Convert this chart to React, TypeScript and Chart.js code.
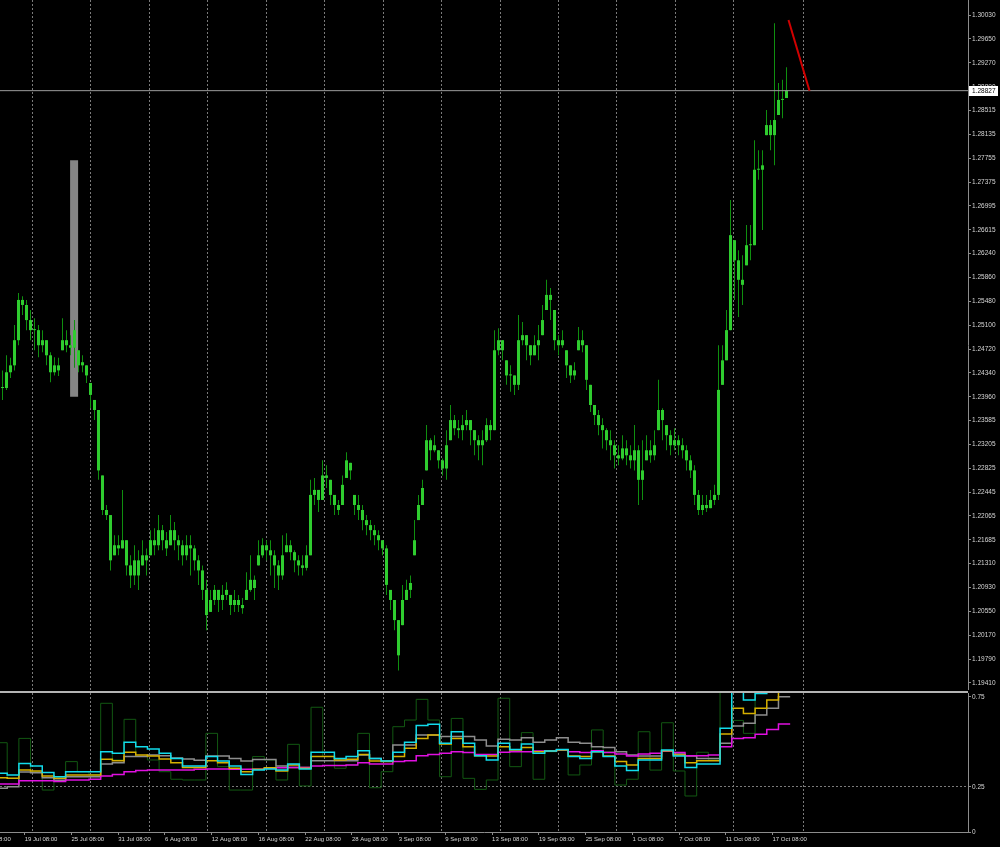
import React, { useEffect, useRef } from "react";
import { Chart, registerables } from "chart.js";

Chart.register(...registerables);

const FONT = "'Liberation Sans', Arial, sans-serif";
const AXIS_TEXT = "#d6d6d6";
const AXIS_LINE = "#8c8c8c";
const GRID = "#7a7a7a";

// ---- price bars (one bar per index) ----
const closes = [
  1.2410, 1.2435, 1.2446, 1.2486, 1.2550, 1.2542, 1.2518, 1.2502, 1.2502, 1.2478,
  1.2486, 1.2462, 1.2435, 1.2446, 1.2438, 1.2486, 1.2478, 1.2474, 1.2502, 1.2446,
  1.2451, 1.2430, 1.2399, 1.2375, 1.2279, 1.2216, 1.2208, 1.2136, 1.2160, 1.2155,
  1.2168, 1.2128, 1.2112, 1.2136, 1.2112, 1.2144, 1.2136, 1.2168, 1.2160, 1.2184,
  1.2168, 1.2155, 1.2184, 1.2168, 1.2160, 1.2144, 1.2160, 1.2155, 1.2136, 1.2120,
  1.2089, 1.2049, 1.2073, 1.2089, 1.2073, 1.2081, 1.2089, 1.2065, 1.2073, 1.2065,
  1.2060, 1.2089, 1.2105, 1.2092, 1.2144, 1.2160, 1.2152, 1.2144, 1.2128, 1.2112,
  1.2144, 1.2160, 1.2149, 1.2136, 1.2128, 1.2124, 1.2144, 1.2240, 1.2248, 1.2232,
  1.2271, 1.2267, 1.2240, 1.2224, 1.2216, 1.2256, 1.2295, 1.2279, 1.2224, 1.2216,
  1.2200, 1.2192, 1.2184, 1.2176, 1.2168, 1.2155, 1.2097, 1.2073, 1.2041, 1.1985,
  1.2073, 1.2089, 1.2100, 1.2168, 1.2224, 1.2251, 1.2327, 1.2311, 1.2319, 1.2295,
  1.2282, 1.2319, 1.2359, 1.2346, 1.2343, 1.2351, 1.2359, 1.2343, 1.2327, 1.2319,
  1.2327, 1.2351, 1.2343, 1.2470, 1.2486, 1.2470, 1.2430, 1.2430, 1.2415, 1.2486,
  1.2494, 1.2478, 1.2462, 1.2478, 1.2486, 1.2518, 1.2558, 1.2550, 1.2486, 1.2478,
  1.2486, 1.2446, 1.2430, 1.2438, 1.2486, 1.2478, 1.2423, 1.2383, 1.2367, 1.2351,
  1.2343, 1.2327, 1.2319, 1.2303, 1.2298, 1.2314, 1.2303, 1.2295, 1.2311, 1.2264,
  1.2279, 1.2311, 1.2303, 1.2319, 1.2375, 1.2359, 1.2335, 1.2319, 1.2327, 1.2319,
  1.2311, 1.2295, 1.2279, 1.2240, 1.2216, 1.2224, 1.2219, 1.2232, 1.2240, 1.2407,
  1.2454, 1.2502, 1.2653, 1.2613, 1.2582, 1.2574, 1.2637, 1.2637, 1.2757, 1.2757,
  1.2764, 1.2828, 1.2812, 1.2836, 1.2868, 1.2868, 1.28827,
];

const highs = [
  1.2438, 1.2462, 1.2458, 1.2510, 1.2561, 1.2556, 1.2550, 1.2534, 1.2521, 1.2510,
  1.2502, 1.2486, 1.2467, 1.2459, 1.2458, 1.2521, 1.2502, 1.2494, 1.2518, 1.2470,
  1.2462, 1.2446, 1.2418, 1.2391, 1.2375, 1.2271, 1.2224, 1.2208, 1.2176, 1.2176,
  1.2248, 1.2168, 1.2144, 1.2160, 1.2152, 1.2168, 1.2155, 1.2184, 1.2187, 1.2208,
  1.2192, 1.2181, 1.2208, 1.2197, 1.2176, 1.2168, 1.2176, 1.2176, 1.2160, 1.2144,
  1.2128, 1.2105, 1.2089, 1.2097, 1.2089, 1.2097, 1.2101, 1.2081, 1.2089, 1.2081,
  1.2076, 1.2117, 1.2144, 1.2112, 1.2168, 1.2171, 1.2168, 1.2168, 1.2152, 1.2136,
  1.2176, 1.2179, 1.2168, 1.2152, 1.2144, 1.2144, 1.2160, 1.2264, 1.2267, 1.2248,
  1.2295, 1.2287, 1.2264, 1.2240, 1.2232, 1.2271, 1.2308, 1.2291, 1.2240, 1.2240,
  1.2224, 1.2208, 1.2200, 1.2192, 1.2184, 1.2168, 1.2160, 1.2089, 1.2073, 1.2041,
  1.2097, 1.2105, 1.2112, 1.2200, 1.2240, 1.2264, 1.2351, 1.2330, 1.2335, 1.2311,
  1.2298, 1.2343, 1.2383, 1.2367, 1.2359, 1.2367, 1.2375, 1.2359, 1.2343, 1.2335,
  1.2343, 1.2362, 1.2359, 1.2502, 1.2505, 1.2486, 1.2454, 1.2446, 1.2430, 1.2526,
  1.2515, 1.2494, 1.2478, 1.2494, 1.2510, 1.2542, 1.2582, 1.2569, 1.2534, 1.2494,
  1.2502, 1.2470, 1.2446, 1.2451, 1.2507, 1.2502, 1.2478, 1.2415, 1.2383, 1.2375,
  1.2362, 1.2346, 1.2343, 1.2327, 1.2319, 1.2335, 1.2327, 1.2319, 1.2351, 1.2319,
  1.2327, 1.2335, 1.2327, 1.2343, 1.2423, 1.2378, 1.2351, 1.2343, 1.2346, 1.2335,
  1.2330, 1.2319, 1.2303, 1.2287, 1.2248, 1.2240, 1.2240, 1.2248, 1.2256, 1.2478,
  1.2478, 1.2534, 1.2709, 1.2645, 1.2629, 1.2621, 1.2669, 1.2669, 1.2804, 1.2788,
  1.2788, 1.2852, 1.2836, 1.2990, 1.2895, 1.2900, 1.2920,
];

const lows = [
  1.2391, 1.2407, 1.2426, 1.2438, 1.2478, 1.2526, 1.2502, 1.2486, 1.2470, 1.2459,
  1.2467, 1.2446, 1.2419, 1.2430, 1.2429, 1.2470, 1.2467, 1.2462, 1.2442, 1.2435,
  1.2435, 1.2418, 1.2378, 1.2359, 1.2264, 1.2208, 1.2200, 1.2120, 1.2144, 1.2144,
  1.2155, 1.2112, 1.2092, 1.2097, 1.2089, 1.2128, 1.2112, 1.2144, 1.2144, 1.2152,
  1.2152, 1.2143, 1.2160, 1.2152, 1.2136, 1.2128, 1.2136, 1.2112, 1.2120, 1.2097,
  1.2073, 1.2025, 1.2054, 1.2065, 1.2054, 1.2057, 1.2073, 1.2049, 1.2054, 1.2054,
  1.2051, 1.2073, 1.2086, 1.2073, 1.2128, 1.2140, 1.2136, 1.2112, 1.2092, 1.2089,
  1.2105, 1.2149, 1.2136, 1.2117, 1.2112, 1.2112, 1.2120, 1.2144, 1.2224, 1.2213,
  1.2232, 1.2251, 1.2224, 1.2208, 1.2208, 1.2224, 1.2267, 1.2264, 1.2208, 1.2200,
  1.2184, 1.2176, 1.2168, 1.2160, 1.2152, 1.2144, 1.2081, 1.2057, 1.2025, 1.1961,
  1.2033, 1.2073, 1.2076, 1.2144, 1.2200, 1.2224, 1.2279, 1.2295, 1.2308, 1.2282,
  1.2271, 1.2264, 1.2327, 1.2335, 1.2330, 1.2327, 1.2343, 1.2319, 1.2303, 1.2295,
  1.2287, 1.2324, 1.2327, 1.2343, 1.2462, 1.2454, 1.2415, 1.2404, 1.2399, 1.2407,
  1.2478, 1.2454, 1.2446, 1.2462, 1.2454, 1.2494, 1.2534, 1.2518, 1.2470, 1.2462,
  1.2474, 1.2426, 1.2418, 1.2423, 1.2470, 1.2467, 1.2407, 1.2372, 1.2351, 1.2335,
  1.2314, 1.2311, 1.2295, 1.2282, 1.2287, 1.2295, 1.2287, 1.2282, 1.2279, 1.2224,
  1.2232, 1.2295, 1.2291, 1.2295, 1.2343, 1.2327, 1.2311, 1.2303, 1.2311, 1.2303,
  1.2298, 1.2279, 1.2267, 1.2224, 1.2208, 1.2208, 1.2213, 1.2219, 1.2224, 1.2232,
  1.2415, 1.2454, 1.2502, 1.2550, 1.2523, 1.2542, 1.2605, 1.2613, 1.2637, 1.2741,
  1.2661, 1.2812, 1.2788, 1.2764, 1.2844, 1.2839, 1.2871,
];

// ---- price axis ----
const priceTickLabels = [
  "1.30030", "1.29650", "1.29270", "1.28890", "1.28515", "1.28135", "1.27755",
  "1.27375", "1.26995", "1.26615", "1.26240", "1.25860", "1.25480", "1.25100",
  "1.24720", "1.24340", "1.23960", "1.23585", "1.23205", "1.22825", "1.22445",
  "1.22065", "1.21685", "1.21310", "1.20930", "1.20550", "1.20170", "1.19790",
  "1.19410",
];
const PRICE_MIN = 1.192987;
const PRICE_MAX = 1.302685;
const LAST_PRICE = 1.28827;

// ---- time axis (bar index units) ----
const X_MIN = -0.625;
const X_MAX = 241.375;
const gridBars = [7.5, 22.1, 36.7, 51.3, 66.0, 80.6, 95.2, 109.8, 124.4, 139.0, 153.6, 168.2, 182.8, 200.3];
const dateTickBars = [-6.1, 5.56, 17.24, 28.93, 40.62, 52.3, 63.99, 75.67, 87.36, 99.05, 110.7, 122.4, 134.1, 145.8, 157.5, 169.2, 180.8, 192.5];
const dateLabels = [
  "13 Jul 08:00", "19 Jul 08:00", "25 Jul 08:00", "31 Jul 08:00", "6 Aug 08:00",
  "12 Aug 08:00", "16 Aug 08:00", "22 Aug 08:00", "28 Aug 08:00", "3 Sep 08:00",
  "9 Sep 08:00", "13 Sep 08:00", "19 Sep 08:00", "25 Sep 08:00", "1 Oct 08:00",
  "7 Oct 08:00", "11 Oct 08:00", "17 Oct 08:00",
];

// ---- drawn objects ----
const highlightBar = 17.9;
const highlightRange = [1.2396, 1.2772];
const trendBars = [196.5, 201.75];
const trendPrices = [1.2995, 1.28827];

// ---- indicator (one value per session) ----
const SESSION_ORIGIN = -1.7465; // bar index where session 0 starts
const SESSION_BARS = 2.9215; // bars per session
const IND_MAX = 0.7722;
const indTickValues = [0, 0.25, 0.75];
const indTickLabels = ["0", "0.25", "0.75"];

const cyanVals = [
  0.326, 0.317, 0.381, 0.367, 0.330, 0.307, 0.335, 0.335, 0.335, 0.446,
  0.437, 0.498, 0.474, 0.461, 0.437, 0.409, 0.367, 0.367, 0.419, 0.394,
  0.367, 0.320, 0.344, 0.350, 0.344, 0.378, 0.350, 0.443, 0.443, 0.409,
  0.419, 0.452, 0.409, 0.394, 0.443, 0.498, 0.591, 0.598, 0.493, 0.557,
  0.493, 0.424, 0.400, 0.493, 0.459, 0.489, 0.437, 0.450, 0.459, 0.419,
  0.409, 0.446, 0.419, 0.367, 0.341, 0.400, 0.400, 0.456, 0.422, 0.359,
  0.378, 0.378, 0.576, 0.850, 0.733, 0.770, 0.850, 0.850,
];
const goldVals = [
  0.302, 0.298, 0.344, 0.339, 0.311, 0.298, 0.317, 0.317, 0.317, 0.404,
  0.396, 0.443, 0.428, 0.422, 0.406, 0.385, 0.359, 0.359, 0.396, 0.385,
  0.354, 0.335, 0.348, 0.357, 0.339, 0.372, 0.354, 0.419, 0.419, 0.400,
  0.404, 0.431, 0.394, 0.391, 0.419, 0.465, 0.520, 0.539, 0.489, 0.520,
  0.474, 0.424, 0.422, 0.474, 0.456, 0.470, 0.446, 0.450, 0.456, 0.422,
  0.419, 0.446, 0.422, 0.391, 0.372, 0.409, 0.409, 0.452, 0.428, 0.385,
  0.396, 0.396, 0.544, 0.687, 0.659, 0.687, 0.733, 0.780,
];
const grayVals = [
  0.243, 0.252, 0.334, 0.329, 0.301, 0.288, 0.307, 0.307, 0.307, 0.378,
  0.385, 0.419, 0.419, 0.428, 0.424, 0.411, 0.406, 0.398, 0.422, 0.422,
  0.409, 0.394, 0.403, 0.403, 0.367, 0.359, 0.359, 0.396, 0.396, 0.396,
  0.396, 0.428, 0.409, 0.394, 0.483, 0.483, 0.539, 0.539, 0.530, 0.530,
  0.530, 0.511, 0.478, 0.515, 0.511, 0.524, 0.498, 0.511, 0.524, 0.498,
  0.493, 0.474, 0.470, 0.446, 0.428, 0.422, 0.422, 0.452, 0.433, 0.422,
  0.409, 0.409, 0.493, 0.589, 0.604, 0.650, 0.687, 0.752,
];
const magentaVals = [
  0.267, 0.267, 0.285, 0.285, 0.285, 0.280, 0.289, 0.289, 0.293, 0.311,
  0.320, 0.335, 0.341, 0.344, 0.344, 0.344, 0.344, 0.348, 0.350, 0.350,
  0.348, 0.348, 0.348, 0.354, 0.357, 0.359, 0.359, 0.367, 0.369, 0.370,
  0.372, 0.385, 0.378, 0.378, 0.391, 0.396, 0.424, 0.431, 0.437, 0.446,
  0.441, 0.431, 0.431, 0.443, 0.446, 0.446, 0.450, 0.450, 0.456, 0.446,
  0.441, 0.452, 0.441, 0.433, 0.422, 0.433, 0.437, 0.450, 0.441, 0.424,
  0.424, 0.428, 0.474, 0.520, 0.524, 0.543, 0.570, 0.600,
];
const greenVals = [
  0.496, 0.298, 0.520, 0.335, 0.233, 0.298, 0.391, 0.335, 0.317, 0.715,
  0.400, 0.626, 0.420, 0.400, 0.335, 0.293, 0.289, 0.289, 0.548, 0.363,
  0.233, 0.233, 0.419, 0.400, 0.289, 0.487, 0.256, 0.693, 0.420, 0.354,
  0.372, 0.548, 0.246, 0.335, 0.585, 0.622, 0.737, 0.622, 0.307, 0.631,
  0.298, 0.237, 0.289, 0.743, 0.363, 0.552, 0.293, 0.446, 0.456, 0.317,
  0.372, 0.567, 0.446, 0.261, 0.293, 0.557, 0.344, 0.607, 0.339, 0.200,
  0.443, 0.400, 0.850, 0.620, 0.548, 0.850,
];

function sessionPoints(vals: number[]) {
  const pts = vals.map((v, s) => ({ x: SESSION_ORIGIN + s * SESSION_BARS, y: v }));
  pts.push({ x: SESSION_ORIGIN + vals.length * SESSION_BARS, y: vals[vals.length - 1] });
  return pts;
}

const priceTag = {
  id: "priceTag",
  afterDraw(chart: any) {
    const ys = chart.scales.y;
    const y = Math.round(ys.getPixelForValue(LAST_PRICE));
    const x = chart.chartArea.right + 1;
    const ctx = chart.ctx;
    ctx.save();
    ctx.fillStyle = "#ffffff";
    ctx.fillRect(x, y - 5, 29, 10);
    ctx.fillStyle = "#000000";
    ctx.font = `6.5px ${FONT}`;
    ctx.textBaseline = "middle";
    ctx.textAlign = "left";
    ctx.fillText(LAST_PRICE.toFixed(5), x + 3, y + 0.5);
    ctx.restore();
  },
};

export default function App() {
  const topRef = useRef<HTMLCanvasElement>(null);
  const botRef = useRef<HTMLCanvasElement>(null);

  useEffect(() => {
    const wickData = highs.map((h, i) => ({ x: i, y: [lows[i], h] }));
    const bodyData = closes.map((c, i) => {
      const prev = i > 0 ? closes[i - 1] : c;
      const open = Math.min(highs[i], Math.max(lows[i], prev));
      return { x: i, y: [open, c] };
    });

    const top = new Chart(topRef.current as HTMLCanvasElement, {
      type: "bar",
      data: {
        datasets: [
          {
            type: "bar",
            data: [{ x: highlightBar, y: highlightRange }],
            backgroundColor: "#858585",
            barThickness: 8,
            grouped: false,
            inflateAmount: 0,
            order: 10,
          } as any,
          {
            type: "bar",
            data: wickData,
            backgroundColor: "#0f8f0f",
            barThickness: 1,
            grouped: false,
            inflateAmount: 0,
            order: 4,
          } as any,
          {
            type: "bar",
            data: bodyData,
            backgroundColor: "#2fcc2f",
            barThickness: 3,
            grouped: false,
            inflateAmount: 0,
            minBarLength: 1,
            order: 3,
          } as any,
          {
            type: "line",
            data: [
              { x: X_MIN, y: LAST_PRICE },
              { x: X_MAX, y: LAST_PRICE },
            ],
            borderColor: "#9c9c9c",
            borderWidth: 1,
            pointRadius: 0,
            order: 2,
          } as any,
          {
            type: "line",
            data: trendBars.map((b, i) => ({ x: b, y: trendPrices[i] })),
            borderColor: "#d00000",
            borderWidth: 2,
            pointRadius: 0,
            order: 1,
          } as any,
        ],
      },
      options: {
        responsive: false,
        maintainAspectRatio: false,
        animation: false,
        layout: { padding: 0 },
        plugins: { legend: { display: false }, tooltip: { enabled: false } },
        scales: {
          x: {
            type: "linear",
            min: X_MIN,
            max: X_MAX,
            offset: false,
            afterBuildTicks: (s: any) => {
              s.ticks = gridBars.map((v) => ({ value: v }));
            },
            ticks: { display: false },
            grid: { color: GRID, drawTicks: false, offset: false },
            border: { display: false, dash: [2, 2] },
            afterFit: (s: any) => {
              s.height = 0;
              s.paddingLeft = 0;
              s.paddingRight = 0;
            },
          },
          y: {
            type: "linear",
            position: "right",
            min: PRICE_MIN,
            max: PRICE_MAX,
            afterBuildTicks: (s: any) => {
              s.ticks = priceTickLabels.map((l) => ({ value: parseFloat(l) }));
            },
            ticks: {
              autoSkip: false,
              color: AXIS_TEXT,
              padding: 1,
              font: { family: FONT, size: 6.5 },
              callback: (_v: any, i: number) => priceTickLabels[i],
            },
            grid: { drawOnChartArea: false, drawTicks: true, tickLength: 3, tickColor: AXIS_LINE },
            border: { color: AXIS_LINE },
            afterFit: (s: any) => {
              s.width = 32;
              s.paddingTop = 0;
              s.paddingBottom = 0;
            },
          },
        },
      } as any,
      plugins: [priceTag],
    });

    const line = (vals: number[], color: string, width: number, order: number) => ({
      type: "line",
      data: sessionPoints(vals),
      borderColor: color,
      borderWidth: width,
      pointRadius: 0,
      stepped: true,
      xAxisID: "x",
      yAxisID: "y",
      order,
    });

    const bot = new Chart(botRef.current as HTMLCanvasElement, {
      type: "line",
      data: {
        datasets: [
          line(greenVals, "#125812", 1, 6),
          line(grayVals, "#8e8e8e", 1.5, 5),
          line(magentaVals, "#e010e0", 1.5, 4),
          line(goldVals, "#d6b000", 1.5, 3),
          line(cyanVals, "#12dcec", 1.5, 2),
        ] as any,
      },
      options: {
        responsive: false,
        maintainAspectRatio: false,
        animation: false,
        layout: { padding: 0 },
        plugins: { legend: { display: false }, tooltip: { enabled: false } },
        scales: {
          x: {
            type: "linear",
            position: "bottom",
            min: X_MIN,
            max: X_MAX,
            offset: false,
            afterBuildTicks: (s: any) => {
              s.ticks = dateTickBars.map((v) => ({ value: v }));
            },
            ticks: {
              autoSkip: false,
              maxRotation: 0,
              minRotation: 0,
              align: "start",
              padding: 1,
              color: AXIS_TEXT,
              font: { family: FONT, size: 6 },
              callback: (_v: any, i: number) => dateLabels[i],
            },
            grid: { drawOnChartArea: false, drawTicks: true, tickLength: 3, tickColor: AXIS_LINE },
            border: { color: AXIS_LINE },
            afterFit: (s: any) => {
              s.height = 15;
              s.paddingLeft = 0;
              s.paddingRight = 0;
            },
          },
          xg: {
            type: "linear",
            position: "bottom",
            min: X_MIN,
            max: X_MAX,
            offset: false,
            afterBuildTicks: (s: any) => {
              s.ticks = gridBars.map((v) => ({ value: v }));
            },
            ticks: { display: false },
            grid: { color: GRID, drawTicks: false, offset: false },
            border: { display: false, dash: [2, 2] },
            afterFit: (s: any) => {
              s.height = 0;
              s.paddingLeft = 0;
              s.paddingRight = 0;
            },
          },
          y: {
            type: "linear",
            position: "right",
            min: 0,
            max: IND_MAX,
            afterBuildTicks: (s: any) => {
              s.ticks = indTickValues.map((v) => ({ value: v }));
            },
            ticks: {
              autoSkip: false,
              color: AXIS_TEXT,
              padding: 1,
              font: { family: FONT, size: 6.5 },
              callback: (_v: any, i: number) => indTickLabels[i],
            },
            grid: {
              drawOnChartArea: true,
              drawTicks: true,
              tickLength: 3,
              tickColor: AXIS_LINE,
              color: (ctx: any) => (ctx.tick && ctx.tick.value === 0.25 ? GRID : "rgba(0,0,0,0)"),
            },
            border: { color: AXIS_LINE, dash: [2, 2] },
            afterFit: (s: any) => {
              s.width = 32;
              s.paddingTop = 0;
              s.paddingBottom = 0;
            },
          },
        },
      } as any,
    });

    return () => {
      top.destroy();
      bot.destroy();
    };
  }, []);

  return (
    <div style={{ position: "relative", width: 1000, height: 847, background: "#000", overflow: "hidden" }}>
      <style>{`html,body{margin:0;padding:0;background:#000;}`}</style>
      <canvas
        ref={topRef}
        width={1000}
        height={690}
        style={{ position: "absolute", left: 0, top: 0, width: 1000, height: 690 }}
      />
      <div style={{ position: "absolute", left: 0, top: 691, width: 968, height: 2, background: "#b4b4b4" }} />
      <canvas
        ref={botRef}
        width={1000}
        height={154}
        style={{ position: "absolute", left: 0, top: 693, width: 1000, height: 154 }}
      />
    </div>
  );
}
